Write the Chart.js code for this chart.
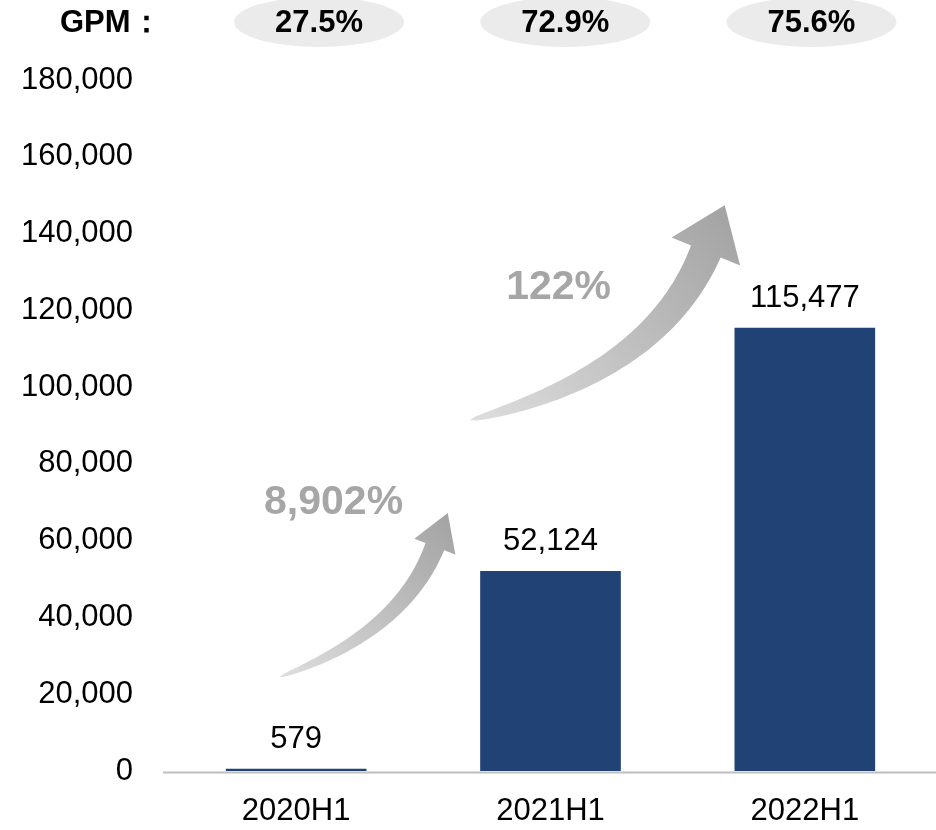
<!DOCTYPE html>
<html>
<head>
<meta charset="utf-8">
<script src="https://cdn.jsdelivr.net/npm/chart.js@4.4.1/dist/chart.umd.min.js"></script>
<style>
  html, body { margin: 0; background: #fff; }
  #wrap { width: 936px; height: 830px; }
</style>
</head>
<body>
<div id="wrap"><canvas id="chart"></canvas></div>
<script>
const periods = ["2020H1", "2021H1", "2022H1"];
const revenue = [579, 52124, 115477];
const gpm = ["27.5%", "72.9%", "75.6%"];
const growth = ["8,902%", "122%"];
const yMax = 180000;
const yStep = 20000;

const FONT = '"Liberation Sans", Arial, sans-serif';
const BAR = "#204274";

// growth arrows, placed in (category index, value) space
const arrowShapes = [
  { tail: [-0.065, 24500], ctrl: [0.415, 36000], tip: [0.596, 67200], head: 36, headW: 44, shaft: 20, text: [0.147, 70000] },
  { tail: [0.682, 91400], ctrl: [1.414, 103400], tip: [1.685, 147400], head: 50, headW: 74, shaft: 32, text: [1.032, 125800] }
];
const gpmShift = [0.09, 0.058, 0.026];

function drawArrow(ctx, xs, ys, a) {
  const P = p => [xs.getPixelForValue(p[0]), ys.getPixelForValue(p[1])];
  const s = P(a.tail), c = P(a.ctrl), tip = P(a.tip);
  let dx = tip[0] - c[0], dy = tip[1] - c[1];
  const len = Math.hypot(dx, dy);
  dx /= len; dy /= len;
  const b = [tip[0] - dx * a.head, tip[1] - dy * a.head];
  const left = [], right = [];
  for (let i = 0; i <= 60; i++) {
    const t = i / 60, u = 1 - t;
    const x = u * u * s[0] + 2 * u * t * c[0] + t * t * b[0];
    const y = u * u * s[1] + 2 * u * t * c[1] + t * t * b[1];
    const tx = 2 * u * (c[0] - s[0]) + 2 * t * (b[0] - c[0]);
    const ty = 2 * u * (c[1] - s[1]) + 2 * t * (b[1] - c[1]);
    const tl = Math.hypot(tx, ty);
    const nx = -ty / tl, ny = tx / tl;
    const w = a.shaft * Math.sqrt(t) / 2;
    left.push([x + nx * w, y + ny * w]);
    right.push([x - nx * w, y - ny * w]);
  }
  const nx = -dy, ny = dx;
  ctx.beginPath();
  ctx.moveTo(left[0][0], left[0][1]);
  left.forEach(p => ctx.lineTo(p[0], p[1]));
  ctx.lineTo(b[0] + nx * a.headW / 2, b[1] + ny * a.headW / 2);
  ctx.lineTo(tip[0], tip[1]);
  ctx.lineTo(b[0] - nx * a.headW / 2, b[1] - ny * a.headW / 2);
  right.reverse().forEach(p => ctx.lineTo(p[0], p[1]));
  ctx.closePath();
  const g = ctx.createLinearGradient(s[0], s[1], tip[0], tip[1]);
  g.addColorStop(0, "#dedede");
  g.addColorStop(1, "#a3a3a3");
  ctx.fillStyle = g;
  ctx.fill();
}

const extras = {
  id: "extras",
  beforeDatasetsDraw(chart) {
    const { ctx, chartArea, scales: { x, y } } = chart;
    ctx.save();
    // axis line
    ctx.strokeStyle = "#bfbfbf";
    ctx.lineWidth = 2;
    ctx.beginPath();
    ctx.moveTo(chartArea.left - 6, chartArea.bottom + 1.5);
    ctx.lineTo(chart.width, chartArea.bottom + 1.5);
    ctx.stroke();
    // arrows and growth labels
    arrowShapes.forEach((a, i) => {
      drawArrow(ctx, x, y, a);
      ctx.fillStyle = "#a6a6a6";
      ctx.font = "bold 41px " + FONT;
      ctx.textAlign = "center";
      ctx.textBaseline = "middle";
      ctx.fillText(growth[i], x.getPixelForValue(a.text[0]), y.getPixelForValue(a.text[1]));
    });
    // GPM row
    const rowY = 22;
    ctx.fillStyle = "#000";
    ctx.font = "bold 31px " + FONT;
    ctx.textAlign = "left";
    ctx.textBaseline = "middle";
    ctx.fillText("GPM：", 60, rowY + 1);
    gpm.forEach((v, i) => {
      const cx = x.getPixelForValue(i + gpmShift[i]);
      ctx.fillStyle = "#ebebeb";
      ctx.beginPath();
      ctx.ellipse(cx, rowY, 85, 25, 0, 0, Math.PI * 2);
      ctx.fill();
      ctx.fillStyle = "#000";
      ctx.textAlign = "center";
      ctx.fillText(v, cx, rowY + 1);
    });
    ctx.restore();
  },
  afterDatasetsDraw(chart) {
    const { ctx } = chart;
    const meta = chart.getDatasetMeta(0);
    ctx.save();
    ctx.fillStyle = "#000";
    ctx.font = "31px " + FONT;
    ctx.textAlign = "center";
    ctx.textBaseline = "middle";
    meta.data.forEach((bar, i) => {
      ctx.fillText(revenue[i].toLocaleString("en-US"), bar.x, bar.y - 29);
    });
    ctx.restore();
  }
};

new Chart(document.getElementById("chart"), {
  type: "bar",
  data: {
    labels: periods,
    datasets: [{
      data: revenue,
      backgroundColor: BAR,
      categoryPercentage: 1,
      barPercentage: 0.553
    }]
  },
  options: {
    responsive: true,
    maintainAspectRatio: false,
    animation: false,
    devicePixelRatio: 1,
    layout: { padding: { top: 80, right: 4, left: 0, bottom: 0 } },
    plugins: { legend: { display: false }, tooltip: { enabled: false } },
    scales: {
      x: {
        grid: { display: false, drawTicks: false },
        border: { display: false },
        ticks: { color: "#000", font: { family: FONT, size: 31 }, padding: 22 },
        afterFit: s => { s.height = 59; }
      },
      y: {
        min: 0,
        max: yMax,
        grid: { display: false, drawTicks: false },
        border: { display: false },
        ticks: { stepSize: yStep, color: "#000", font: { family: FONT, size: 31 }, padding: 36 },
        afterFit: s => { s.width = 169; }
      }
    }
  },
  plugins: [extras]
});
</script>
</body>
</html>
